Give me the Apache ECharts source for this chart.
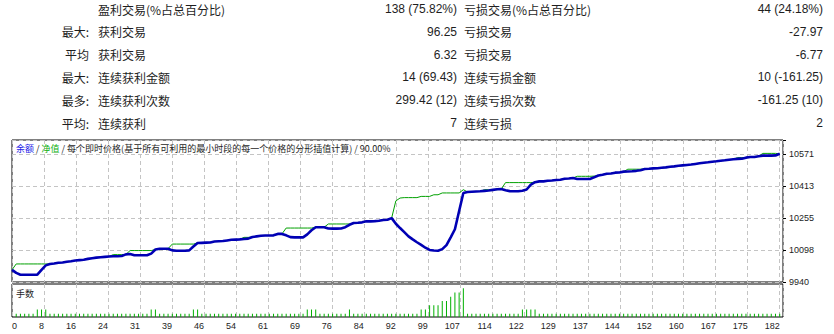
<!DOCTYPE html>
<html><head><meta charset="utf-8">
<script src="https://cdn.jsdelivr.net/npm/echarts@6/dist/echarts.min.js"></script>
<style>html,body{margin:0;padding:0;background:#fff}#c{width:834px;height:334px}</style>
</head><body><div id="c"></div>
<script>
// ---- header table ----
const rowPrefix = ['', '最大:', '平均', '最大:', '最多:', '平均:'];
const winLabels = ['盈利交易(%占总百分比)', '获利交易', '获利交易', '连续获利金额', '连续获利次数', '连续获利'];
const winValues = ['138 (75.82%)', '96.25', '6.32', '14 (69.43)', '299.42 (12)', '7'];
const lossLabels = ['亏损交易(%占总百分比)', '亏损交易', '亏损交易', '连续亏损金额', '连续亏损次数', '连续亏损'];
const lossValues = ['44 (24.18%)', '-27.97', '-6.77', '10 (-161.25)', '-161.25 (10)', '2'];

// ---- chart texts ----
const titleBalance = '余额';
const titleEquity = '净值';
const titleRest = '每个即时价格(基于所有可利用的最小时段的每一个价格的分形插值计算) / 90.00%';
const volumeTitle = '手数';

// ---- axes ----
const xTickLabels = ['0','8','16','24','31','39','46','54','61','69','76','84','92','99','107','114','122','129','137','144','152','160','167','175','182'];
const yTickLabels = ['9940','10098','10255','10413','10571'];

// ---- series (index = trade number) ----
const balance = [
 10000, 9985, 9976, 9976, 9976, 9976, 9976, 10000, 10022, 10029,
 10031, 10035, 10036, 10040, 10042, 10046, 10048, 10050, 10054, 10057,
 10060, 10062, 10064, 10066, 10067, 10067, 10068, 10076, 10078, 10072,
 10072, 10072, 10072, 10080, 10100, 10104, 10104, 10104, 10096, 10094,
 10094, 10094, 10096, 10115, 10132, 10133, 10134, 10135, 10140, 10141,
 10142, 10145, 10148, 10149, 10150, 10152, 10154, 10162, 10165, 10168,
 10169, 10169, 10170, 10177, 10177, 10170, 10161, 10160, 10160, 10160,
 10175, 10195, 10210, 10210, 10210, 10204, 10203, 10203, 10204, 10210,
 10222, 10231, 10232, 10234, 10239, 10239, 10240, 10242, 10246, 10247,
 10255, 10227, 10206, 10186, 10165, 10150, 10136, 10123, 10109, 10098,
 10095, 10094, 10102, 10122, 10160, 10200, 10290, 10379, 10384, 10385,
 10386, 10387, 10389, 10391, 10394, 10397, 10398, 10392, 10388, 10387,
 10387, 10390, 10396, 10420, 10432, 10436, 10436, 10439, 10440, 10443,
 10444, 10449, 10450, 10453, 10448, 10448, 10448, 10448, 10456, 10465,
 10469, 10474, 10475, 10479, 10480, 10484, 10485, 10486, 10488, 10491,
 10497, 10498, 10500, 10501, 10503, 10505, 10508, 10510, 10513, 10515,
 10517, 10519, 10522, 10525, 10528, 10530, 10533, 10535, 10538, 10540,
 10543, 10545, 10547, 10548, 10553, 10556, 10556, 10560, 10563, 10563,
 10563, 10564, 10572
];
const equity = [
 10000, 10029, 10029, 10029, 10029, 10029, 10029, 10029, 10029, 10029,
 10031, 10035, 10036, 10040, 10042, 10046, 10048, 10050, 10054, 10057,
 10060, 10062, 10064, 10066, 10075, 10075, 10075, 10076, 10095, 10095,
 10095, 10095, 10095, 10095, 10100, 10104, 10104, 10104, 10127, 10127,
 10127, 10127, 10127, 10127, 10132, 10133, 10134, 10135, 10140, 10141,
 10142, 10145, 10148, 10149, 10150, 10160, 10160, 10162, 10165, 10168,
 10169, 10169, 10170, 10177, 10177, 10206, 10206, 10206, 10206, 10206,
 10206, 10206, 10210, 10210, 10210, 10226, 10226, 10226, 10226, 10226,
 10226, 10231, 10232, 10234, 10239, 10239, 10240, 10242, 10246, 10247,
 10255, 10340, 10354, 10356, 10356, 10356, 10356, 10362, 10362, 10362,
 10370, 10370, 10379, 10379, 10379, 10379, 10379, 10395, 10384, 10385,
 10386, 10387, 10395, 10395, 10395, 10395, 10398, 10430, 10430, 10430,
 10430, 10430, 10430, 10430, 10432, 10436, 10436, 10439, 10440, 10443,
 10444, 10449, 10450, 10453, 10461, 10461, 10461, 10461, 10462, 10465,
 10469, 10474, 10475, 10479, 10480, 10484, 10496, 10496, 10496, 10496,
 10497, 10498, 10500, 10501, 10503, 10505, 10508, 10510, 10513, 10515,
 10517, 10519, 10522, 10525, 10528, 10530, 10533, 10535, 10538, 10540,
 10543, 10545, 10553, 10553, 10553, 10556, 10556, 10560, 10574, 10574,
 10574, 10574, 10572
];
// lots of trades 1..182
const lots = [
 0.01,0.01,0.01,0.01,0.01,0.02,0.02,0.02,0.01,0.01,
 0.01,0.01,0.01,0.01,0.01,0.01,0.01,0.01,0.01,0.01,
 0.01,0.01,0.01,0.01,0.01,0.01,0.01,0.01,0.01,0.01,
 0.01,0.01,0.02,0.02,0.01,0.01,0.01,0.01,0.01,0.01,
 0.01,0.01,0.02,0.02,0.01,0.01,0.01,0.01,0.01,0.01,
 0.01,0.01,0.01,0.01,0.01,0.01,0.01,0.01,0.01,0.01,
 0.01,0.01,0.01,0.01,0.01,0.01,0.01,0.01,0.01,0.02,
 0.02,0.02,0.01,0.01,0.01,0.01,0.01,0.01,0.01,0.02,
 0.01,0.01,0.01,0.01,0.01,0.01,0.01,0.01,0.01,0.01,
 0.01,0.01,0.01,0.01,0.01,0.01,0.02,0.02,0.03,0.03,
 0.03,0.04,0.04,0.05,0.06,0.06,0.07,0.01,0.01,0.01,
 0.01,0.01,0.01,0.01,0.01,0.01,0.01,0.01,0.01,0.01,
 0.02,0.02,0.02,0.02,0.01,0.01,0.01,0.01,0.01,0.01,
 0.01,0.01,0.01,0.01,0.01,0.01,0.01,0.01,0.01,0.01,
 0.01,0.01,0.01,0.01,0.01,0.01,0.01,0.01,0.01,0.01,
 0.01,0.01,0.01,0.01,0.01,0.01,0.01,0.01,0.01,0.01,
 0.01,0.01,0.01,0.01,0.01,0.01,0.01,0.01,0.01,0.01,
 0.01,0.01,0.01,0.01,0.01,0.01,0.01,0.01,0.01,0.01,
 0.01,0.01
];

// ---- layout constants ----
const X_STEP = 182 / 24, X_MAX = 182.78;
const Y_MIN = 9940, Y_MAX = 10640, Y_STEP = 157.75;
const CJK = '"Noto Sans CJK SC", sans-serif';
const LAT = '"Liberation Sans", Arial, sans-serif';
const TXT = '#1e1e1e';
const GRIDLINE = { show: true, lineStyle: { color: '#c4c4c4', type: [4, 3], width: 1 } };

const graphics = [];
for (let r = 0; r < 6; r++) {
  const y = 9 + r * 22.8;
  const t = (text, x, align, font) => graphics.push({ type: 'text', silent: true,
    style: { text, x, y, fill: TXT, font, align, textAlign: align, verticalAlign: 'middle', textVerticalAlign: 'middle' } });
  if (rowPrefix[r]) t(rowPrefix[r], 89, 'right', '12px ' + CJK);
  t(winLabels[r], 98, 'left', '12px ' + CJK);
  t(winValues[r], 457, 'right', '12px ' + LAT);
  t(lossLabels[r], 464, 'left', '12px ' + CJK);
  t(lossValues[r], 823, 'right', '12px ' + LAT);
}
graphics.push({ type: 'text', silent: true, z: 100,
  style: { text: '{b|' + titleBalance + '} / {g|' + titleEquity + '} / ' + titleRest,
    x: 16, y: 148, fill: TXT, font: '9px ' + CJK, verticalAlign: 'middle', textVerticalAlign: 'middle',
    rich: { b: { fill: '#1818e8', font: '9px ' + CJK }, g: { fill: '#10b010', font: '9px ' + CJK } } } });
graphics.push({ type: 'text', silent: true, z: 100,
  style: { text: volumeTitle, x: 16, y: 293, fill: TXT, font: '9px ' + CJK, verticalAlign: 'middle', textVerticalAlign: 'middle' } });

const chart = echarts.init(document.getElementById('c'), null, { renderer: 'svg', width: 834, height: 334 });
chart.setOption({
  animation: false,
  backgroundColor: '#fff',
  graphic: graphics,
  grid: [
    { left: 12, top: 140, width: 771, height: 142, show: true, borderColor: '#000', borderWidth: 1, backgroundColor: '#fff' },
    { left: 12, top: 284, width: 771, height: 33, show: true, borderColor: '#000', borderWidth: 1, backgroundColor: '#fff' }
  ],
  xAxis: [
    { type: 'value', gridIndex: 0, min: 0, max: X_MAX, interval: X_STEP,
      axisLine: { show: false }, axisTick: { show: false }, axisLabel: { show: false }, splitLine: GRIDLINE },
    { type: 'value', gridIndex: 1, min: 0, max: X_MAX, interval: X_STEP,
      axisLine: { show: false }, axisTick: { show: false }, splitLine: GRIDLINE,
      axisLabel: { show: true, margin: 4, align: 'right', alignMinLabel: 'left', color: TXT,
        fontFamily: LAT, fontSize: 9, formatter: (v, i) => (xTickLabels[i] !== undefined ? xTickLabels[i] : '') } }
  ],
  yAxis: [
    { type: 'value', gridIndex: 0, min: Y_MIN, max: Y_MAX, show: false, splitLine: { show: false } },
    { type: 'value', gridIndex: 0, position: 'right', min: 0, max: (Y_MAX - Y_MIN) / Y_STEP, interval: 1,
      axisLine: { show: false }, axisTick: { show: true, length: 3, lineStyle: { color: '#000' } },
      splitLine: GRIDLINE,
      axisLabel: { show: true, margin: 6, align: 'left', color: TXT, fontFamily: LAT, fontSize: 9,
        formatter: (v, i) => (yTickLabels[i] !== undefined ? yTickLabels[i] : '') } },
    { type: 'value', gridIndex: 1, min: 0.0025, max: 0.08, show: false, splitLine: { show: false } }
  ],
  series: [
    { type: 'line', name: '净值', xAxisIndex: 0, yAxisIndex: 0, showSymbol: false, z: 2,
      lineStyle: { color: '#00a000', width: 1 }, itemStyle: { color: '#00a000' },
      data: equity.map((v, i) => [i, v]) },
    { type: 'line', name: '余额', xAxisIndex: 0, yAxisIndex: 0, showSymbol: false, z: 3,
      lineStyle: { color: '#0000b4', width: 2.6 }, itemStyle: { color: '#0000b4' },
      data: balance.map((v, i) => [i, v]) },
    { type: 'bar', name: '手数', xAxisIndex: 1, yAxisIndex: 2, barWidth: 1, clip: true,
      itemStyle: { color: '#00b000' },
      data: lots.map((v, i) => [i + 1, v]) }
  ]
});
</script></body></html>
